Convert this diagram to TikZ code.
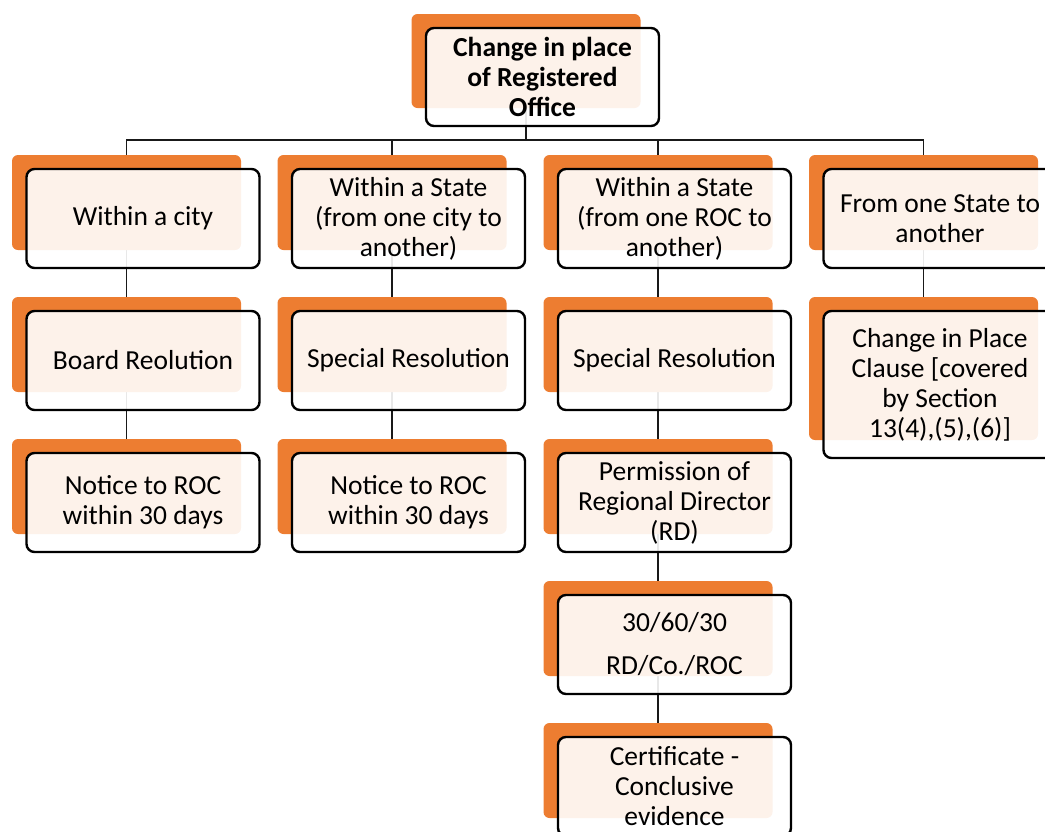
\documentclass[tikz,border=0pt]{standalone}
\usepackage{fontspec}
\setmainfont{Carlito}
\usetikzlibrary{calc}
\pgfdeclarelayer{bg}
\pgfsetlayers{bg,main}
\definecolor{accent}{HTML}{ED7D31}
\tikzset{
  backrect/.style={rectangle, rounded corners=6pt, fill=accent, draw=none,
    minimum width=229pt, inner sep=0pt, outer sep=0pt},
  frontbox/.style={rectangle, rounded corners=8pt, draw=black, line width=2.4pt,
    fill=white, fill opacity=0.9, text opacity=1, minimum width=233pt,
    inner sep=0pt, outer sep=0pt, align=center,
    font=\fontsize{27.5}{30}\selectfont},
  link/.style={draw=black!90, line width=1.4pt}
}
% #1 name, #2 centre x of the back plate, #3 top y, #4 plate height, #5 text
\newcommand\unitbox[5]{%
  \node[backrect, minimum height=#4pt] (o#1) at (#2, #3+#4/2) {};
  \node[frontbox, minimum height=#4pt+4pt] (f#1) at ($(o#1.center)+(16.5,16)$) {#5};
}
\begin{document}
\begin{tikzpicture}[x=1pt, y=-1pt]
  \useasboundingbox (0,0) rectangle (1045,831);
  \clip (0,0) rectangle (1045,831);

  % root
  \unitbox{R}{526}{14}{94}{\bfseries Change in place\\\bfseries of Registered\\\bfseries Office}

  % first level
  \unitbox{A1}{126.5}{155}{95}{Within a city}
  \unitbox{B1}{392}{155}{95}{Within a State\\(from one city to\\another)}
  \unitbox{C1}{658}{155}{95}{Within a State\\(from one ROC to\\another)}
  \unitbox{D1}{923.5}{155}{95}{From one State to\\another}

  % second level
  \unitbox{A2}{126.5}{297}{95}{Board Reolution}
  \unitbox{B2}{392}{297}{95}{Special Resolution}
  \unitbox{C2}{658}{297}{95}{Special Resolution}
  \unitbox{D2}{923.5}{297}{143}{Change in Place\\Clause [covered\\by Section\\13(4),(5),(6)]}

  % third level
  \unitbox{A3}{126.5}{439}{95}{Notice to ROC\\within 30 days}
  \unitbox{B3}{392}{439}{95}{Notice to ROC\\within 30 days}
  \unitbox{C3}{658}{439}{95}{Permission of\\Regional Director\\(RD)}

  % fourth and fifth level
  \unitbox{C4}{658}{581}{95}{30/60/30\\[13pt]RD/Co./ROC}
  \unitbox{C5}{658}{723}{95}{Certificate -\\Conclusive\\evidence}

  \begin{pgfonlayer}{bg}
    \coordinate (bus) at (0,140);
    \draw[link] (oR.center) -- (bus -| oR.center);
    \foreach \c in {A1,B1,C1,D1}
      \draw[link] (o\c.center) |- (bus -| oR.center);
    \draw[link] (oA1.center) -- (oA2.center) -- (oA3.center);
    \draw[link] (oB1.center) -- (oB2.center) -- (oB3.center);
    \draw[link] (oC1.center) -- (oC2.center) -- (oC3.center) -- (oC4.center) -- (oC5.center);
    \draw[link] (oD1.center) -- (oD2.center);
  \end{pgfonlayer}
\end{tikzpicture}
\end{document}
